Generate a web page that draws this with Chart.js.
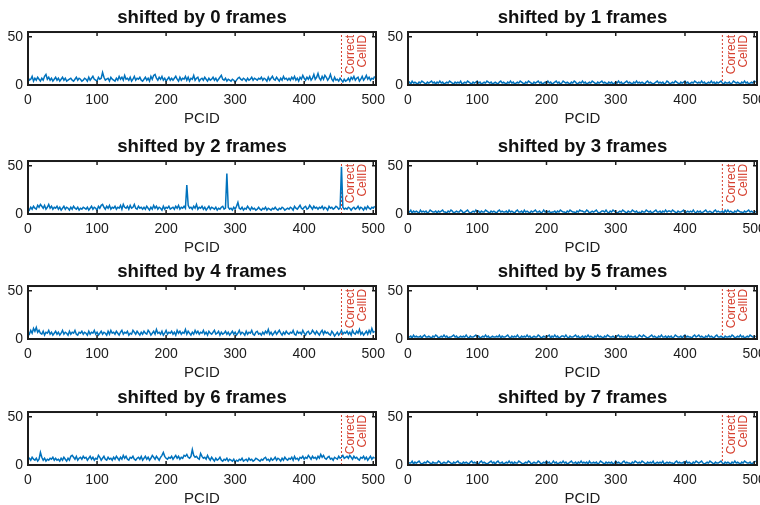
<!DOCTYPE html>
<html>
<head>
<meta charset="utf-8">
<script src="https://cdn.jsdelivr.net/npm/chart.js@4.4.0/dist/chart.umd.min.js"></script>
<style>
  body { margin: 0; background: #fff; }
  #wrap { position: relative; width: 760px; height: 505px; overflow: hidden; }
  canvas { position: absolute; }
</style>
</head>
<body>
<div id="wrap"></div>
<script>
// PCID axis, sampled every 2 ids
const pcid = [];
for (let p = 0; p <= 502; p += 2) pcid.push(p);

const xTicks = [0, 100, 200, 300, 400, 500];
const yTicks = [0, 50];
const correctPcid = 454;
const frameShifts = [0, 1, 2, 3, 4, 5, 6, 7];

const shift0 = [
  8,5,6,9,4,7,5,8,6,4,7,5,9,11,6,8,5,7,4,6,8,
  5,7,4,6,8,5,7,4,5,6,7,5,4,6,8,5,7,6,4,5,7,
  6,4,8,5,7,9,6,5,4,8,6,7,13,8,5,6,7,4,8,6,5,
  4,7,5,9,6,8,5,10,6,7,5,8,4,6,9,5,7,6,8,5,4,
  6,8,5,7,4,9,6,10,11,7,5,8,6,9,5,7,4,6,8,5,7,
  5,7,9,6,4,8,5,7,6,9,5,8,4,7,6,10,5,7,8,4,6,
  7,5,8,6,4,7,5,6,8,5,7,4,6,8,10,6,5,7,4,6,5,
  4,6,5,3,5,7,8,6,5,7,6,4,7,5,6,8,5,7,6,5,7,
  6,8,5,7,6,4,8,5,7,9,6,5,8,6,4,7,5,9,6,7,5,
  7,5,8,6,9,5,7,4,8,6,10,7,5,8,6,9,5,7,11,6,8,
  12,7,5,9,6,10,8,5,7,11,6,4,8,5,6,4,7,5,3,6,4,
  5,7,4,8,6,9,5,7,8,4,6,9,5,7,10,6,8,5,7,6,9
];
const shift1 = [
  2,3,1,4,2,3,2,1,3,2,4,3,2,1,3,2,3,4,2,3,1,
  3,2,4,2,3,1,2,3,2,4,3,2,1,3,2,3,2,4,1,2,3,
  2,4,3,2,1,3,2,3,4,2,3,1,2,3,2,4,3,2,3,1,2,
  3,2,1,3,4,2,3,2,1,3,2,4,2,3,1,2,3,2,4,3,2,
  1,3,2,4,3,2,1,3,2,3,4,2,3,1,2,3,2,4,2,3,1,
  2,3,4,2,3,1,2,4,3,2,3,2,1,3,2,4,3,1,2,3,2,
  4,2,3,1,2,3,2,4,3,2,1,3,2,3,4,2,3,2,1,3,2,
  3,1,2,3,2,4,2,3,1,2,3,4,2,3,2,1,3,2,4,2,3,
  2,3,2,1,3,4,2,3,2,1,2,3,4,2,3,2,3,1,2,4,3,
  1,2,3,2,4,3,2,1,3,2,3,4,2,3,1,2,3,2,4,3,2,
  3,2,4,2,3,1,2,3,2,4,2,3,1,3,2,3,4,2,1,3,2,
  2,3,1,2,4,3,2,3,2,1,3,2,4,2,3,1,2,3,2,4,3
];
const shift2 = [
  6,4,7,5,8,6,5,9,7,10,8,6,9,5,7,10,6,8,5,7,6,
  8,5,7,4,6,8,5,7,6,4,7,5,8,6,5,7,4,6,5,7,6,
  5,7,4,6,8,5,7,6,4,8,6,9,10,7,5,8,6,9,5,7,6,
  8,5,7,6,9,5,10,7,6,8,5,9,6,7,10,6,5,8,6,7,5,
  7,5,8,6,4,7,5,9,6,8,5,7,6,4,8,5,7,6,8,5,6,
  7,5,8,6,9,5,7,6,8,6,30,9,6,7,5,8,6,10,5,7,6,
  8,5,7,4,6,8,5,7,6,5,7,4,6,5,7,8,5,6,42,7,5,
  6,4,7,5,8,12,6,5,7,4,6,5,8,6,4,7,5,6,4,5,7,
  5,4,6,5,7,4,6,5,4,6,5,7,5,4,6,5,7,6,4,5,6,
  5,7,6,4,8,6,5,7,9,6,5,7,8,5,6,9,7,5,8,6,7,
  5,7,6,8,5,7,6,4,8,6,7,5,6,8,7,5,6,49,7,5,6,
  5,7,6,4,6,7,5,6,8,5,7,6,4,7,5,8,6,5,7,6,8
];
const shift3 = [
  3,2,4,1,3,2,3,2,1,4,2,3,2,3,1,2,4,3,2,2,3,
  1,3,2,3,4,2,2,1,3,2,4,3,1,2,3,2,2,4,3,1,2,
  3,4,2,1,2,3,2,4,2,3,1,3,2,2,4,3,2,1,3,2,3,
  2,1,3,4,2,3,2,2,3,1,4,2,3,2,1,3,4,2,2,3,1,
  4,2,3,2,1,3,2,3,4,2,2,3,1,2,4,2,3,2,3,1,2,
  2,3,1,3,2,4,3,2,2,1,3,2,4,3,2,2,1,3,2,4,3,
  3,2,2,4,3,1,2,3,2,3,4,2,1,2,3,3,2,4,2,1,3,
  2,4,3,2,1,2,3,2,4,3,2,1,3,2,2,4,3,2,3,1,2,
  1,3,2,2,4,3,2,3,1,2,3,4,2,2,3,1,3,2,4,2,3,
  3,2,4,3,2,1,3,2,2,3,4,1,2,3,2,3,2,4,2,1,3,
  2,3,1,2,3,4,2,2,3,2,1,3,4,2,3,2,2,3,1,4,2,
  4,2,3,2,1,3,2,4,3,2,2,1,3,2,3,4,2,3,2,1,3
];
const shift4 = [
  7,5,9,6,11,8,12,7,9,6,5,8,4,7,6,9,5,7,4,6,8,
  5,7,4,6,9,5,7,6,4,8,5,7,6,9,5,4,7,6,8,5,7,
  6,4,8,5,7,6,9,5,7,4,6,8,5,7,6,4,8,5,9,6,7,
  5,8,6,4,7,9,5,7,6,8,4,6,5,9,7,5,8,6,4,7,5,
  8,6,5,9,7,4,6,8,5,10,6,7,5,8,4,6,9,5,7,6,8,
  5,7,4,9,6,8,5,7,6,10,5,8,6,4,7,5,9,6,8,5,7,
  6,9,5,7,4,8,6,5,7,9,5,6,8,4,7,5,6,8,5,7,4,
  6,8,5,7,4,6,9,5,7,6,4,8,5,7,6,9,5,4,7,8,5,
  6,4,7,5,8,6,10,5,7,4,6,8,5,7,9,6,4,7,5,8,6,
  5,7,6,9,5,4,8,6,7,5,9,6,4,7,8,5,6,9,7,5,8,
  6,4,7,9,5,8,6,7,5,4,8,6,3,5,7,4,6,9,5,7,6,
  8,5,7,4,9,6,5,8,6,10,5,7,4,6,8,5,9,6,11,7,8
];
const shift5 = [
  2,2,3,1,4,2,3,2,2,3,1,3,4,2,2,3,2,1,3,2,4,
  3,1,2,3,2,4,2,3,1,2,2,3,4,2,3,1,2,3,2,3,2,
  4,2,1,3,2,2,3,4,2,3,1,2,3,2,4,2,3,1,2,3,2,
  2,3,2,4,1,3,2,2,3,4,2,1,3,2,3,2,4,2,1,3,2,
  3,2,4,2,3,1,2,3,2,2,4,3,1,2,3,2,2,3,4,1,3,
  2,4,2,3,1,2,3,3,2,4,2,1,3,2,2,3,4,2,3,1,2,
  3,1,3,2,4,2,3,2,1,3,2,4,2,3,2,1,3,2,4,3,2,
  2,3,2,1,3,4,2,3,2,2,3,1,4,2,3,2,2,3,1,2,4,
  3,2,4,3,2,1,2,3,4,2,3,2,1,3,2,4,2,2,3,1,3,
  2,3,1,2,4,3,2,2,3,1,3,4,2,3,2,2,1,3,4,2,3,
  4,2,3,2,1,3,2,4,2,3,2,1,3,4,2,2,3,2,1,3,2,
  2,3,2,4,3,1,2,3,2,4,2,3,1,2,3,2,4,3,2,2,3
];
const shift6 = [
  6,7,5,8,6,5,7,4,6,13,8,5,7,4,6,5,7,6,8,5,7,
  5,6,4,7,5,8,6,4,7,5,9,10,8,6,9,5,7,8,6,9,7,
  8,5,7,9,6,8,5,7,6,10,8,5,7,9,6,5,8,6,7,5,8,
  6,9,7,5,8,6,10,7,9,6,5,8,7,9,6,5,7,8,6,9,5,
  7,9,6,8,5,7,10,8,6,9,7,5,8,10,13,9,7,6,8,7,9,
  6,8,10,7,9,6,8,7,10,9,11,8,7,9,16,10,8,9,7,6,12,
  9,7,8,6,10,7,5,8,6,4,7,5,6,8,5,4,6,5,7,4,6,
  5,4,6,3,5,4,6,5,7,4,5,6,4,7,5,6,4,5,7,6,5,
  4,6,5,7,8,5,6,4,7,5,6,8,5,7,6,4,7,5,8,6,5,
  7,6,8,5,9,6,7,5,8,7,9,6,8,7,10,8,6,9,7,8,6,
  9,7,11,8,10,7,6,8,9,6,7,5,8,7,6,9,7,8,10,7,8,
  9,7,10,8,6,9,7,8,6,5,8,7,9,6,8,5,7,9,6,8,7
];
const shift7 = [
  3,2,2,4,1,3,2,3,4,2,1,2,3,2,4,3,2,1,3,2,2,
  2,4,3,1,2,3,2,2,4,3,2,1,3,2,3,4,2,2,1,3,2,
  3,2,1,3,4,2,3,2,2,1,3,4,2,3,2,1,2,3,4,2,3,
  1,3,4,2,2,3,1,2,3,2,4,2,3,1,3,2,2,4,3,2,1,
  2,3,2,4,3,1,2,3,2,2,4,3,1,2,3,2,4,2,3,1,2,
  4,2,3,1,2,3,2,4,2,3,1,2,3,4,2,2,3,1,3,2,4,
  2,3,2,3,1,4,2,2,3,2,3,1,2,4,3,2,1,3,2,3,2,
  3,1,2,4,2,3,2,1,3,4,2,3,2,2,1,3,2,4,3,2,3,
  2,4,3,2,1,3,2,3,2,4,1,2,3,2,3,2,4,1,2,3,2,
  3,2,2,1,3,4,2,3,2,2,3,1,4,2,3,2,1,3,2,4,3,
  2,3,4,2,1,2,3,2,4,3,2,1,3,2,2,3,4,2,1,3,2,
  3,2,1,3,2,4,2,3,2,1,3,2,4,3,2,2,3,1,2,3,4
];
const seriesByShift = [shift0, shift1, shift2, shift3, shift4, shift5, shift6, shift7];

const FONT = '"Liberation Sans", Arial, Helvetica, sans-serif';
const TEXT = '#1c1c1c';
const RED = '#d6402f';
const rowTops = [0, 129, 254, 380];

// axes box, inward tick marks and the "Correct CellID" note
const frameBox = {
  id: 'frameBox',
  afterDatasetsDraw(chart) {
    const { ctx, chartArea: a, scales: { x, y } } = chart;

    ctx.save();
    ctx.fillStyle = RED;
    ctx.font = '12px ' + FONT;
    ctx.textAlign = 'right';
    ctx.textBaseline = 'middle';
    ctx.translate(x.getPixelForValue(correctPcid) + 9, y.getPixelForValue(52));
    ctx.rotate(-Math.PI / 2);
    ctx.fillText('Correct', 0, 0);
    ctx.fillText('CellID', 0, 12);
    ctx.restore();

    ctx.save();
    ctx.strokeStyle = TEXT;
    ctx.lineWidth = 2;
    ctx.strokeRect(a.left, a.top, a.right - a.left, a.bottom - a.top);
    ctx.lineWidth = 1.5;
    ctx.beginPath();
    x.ticks.forEach(t => {
      const px = x.getPixelForValue(t.value);
      ctx.moveTo(px, a.top); ctx.lineTo(px, a.top + 4);
      ctx.moveTo(px, a.bottom); ctx.lineTo(px, a.bottom - 4);
    });
    y.ticks.forEach(t => {
      const py = y.getPixelForValue(t.value);
      ctx.moveTo(a.left, py); ctx.lineTo(a.left + 4, py);
      ctx.moveTo(a.right, py); ctx.lineTo(a.right - 4, py);
    });
    ctx.stroke();
    ctx.restore();
  }
};

function makePanel(shift) {
  const row = Math.floor(shift / 2);
  const col = shift % 2;
  const canvas = document.createElement('canvas');
  canvas.width = col ? 380 : 400;
  canvas.height = 126;
  canvas.style.left = (col ? 380 : 0) + 'px';
  canvas.style.top = rowTops[row] + 'px';
  document.getElementById('wrap').appendChild(canvas);

  const values = seriesByShift[shift];

  new Chart(canvas, {
    type: 'line',
    data: {
      datasets: [
        {
          data: pcid.map((p, i) => ({ x: p, y: values[i] })),
          borderColor: '#0072BD',
          borderWidth: 1.5,
          pointRadius: 0,
          tension: 0
        },
        {
          data: [{ x: correctPcid, y: 0 }, { x: correctPcid, y: 55 }],
          borderColor: RED,
          borderWidth: 1,
          borderDash: [2, 2],
          pointRadius: 0
        }
      ]
    },
    options: {
      responsive: false,
      animation: false,
      events: [],
      layout: { padding: { left: 0, right: col ? 3 : 24, top: 0, bottom: 0 } },
      plugins: {
        legend: { display: false },
        tooltip: { enabled: false },
        title: {
          display: true,
          text: 'shifted by ' + shift + ' frames',
          fullSize: false,
          color: '#111',
          font: { family: FONT, size: 18.6, weight: 'bold', lineHeight: 1.2 },
          padding: { top: 6.6, bottom: 3.1 }
        }
      },
      scales: {
        x: {
          type: 'linear',
          min: 0,
          max: 504,
          grid: { display: false, drawTicks: false },
          border: { display: false },
          ticks: { color: TEXT, padding: 7, maxRotation: 0, font: { family: FONT, size: 14 } },
          afterBuildTicks: s => { s.ticks = xTicks.map(v => ({ value: v })); },
          afterFit: s => { s.height = 41; s.paddingLeft = 0; s.paddingRight = 0; },
          title: {
            display: true,
            text: 'PCID',
            color: TEXT,
            padding: { top: 0, bottom: 0 },
            font: { family: FONT, size: 15, lineHeight: 1 }
          }
        },
        y: {
          min: 0,
          max: 55,
          grid: { display: false, drawTicks: false },
          border: { display: false },
          ticks: { color: TEXT, padding: 5, font: { family: FONT, size: 14 } },
          afterBuildTicks: s => { s.ticks = yTicks.map(v => ({ value: v })); },
          afterFit: s => { s.width = 28; s.paddingTop = 0; s.paddingBottom = 0; }
        }
      }
    },
    plugins: [frameBox]
  });
}

frameShifts.forEach(makePanel);
</script>
</body>
</html>
